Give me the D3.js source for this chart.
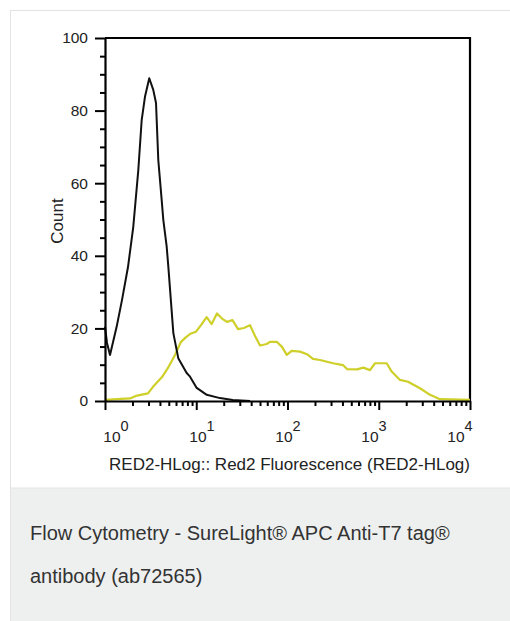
<!DOCTYPE html>
<html>
<head>
<meta charset="utf-8">
<script src="https://cdn.jsdelivr.net/npm/d3@7"></script>
<style>
  html, body { margin: 0; padding: 0; background: #fff; }
  svg { display: block; }
  text { font-family: "Liberation Sans", Arial, sans-serif; }
</style>
</head>
<body>
<svg id="chart" width="510" height="621"></svg>
<script>
// ---- data (log10 of fluorescence, count) ----
const controlLogX = [0.00, 0.022, 0.055, 0.128, 0.186, 0.252, 0.31, 0.365, 0.402, 0.438, 0.485, 0.529, 0.559, 0.584, 0.621, 0.639, 0.676, 0.694, 0.749, 0.803, 0.895, 0.932, 1.005, 1.115, 1.26, 1.40, 1.59];
const controlCount = [20.5, 16.0, 12.7, 20.5, 27.8, 36.9, 48.0, 63.6, 77.4, 83.8, 88.9, 85.7, 82.1, 66.4, 55.4, 49.9, 42.5, 37.0, 18.7, 11.8, 7.7, 6.7, 3.6, 1.7, 0.8, 0.3, 0.0];

const stainedLogX = [0.00, 0.274, 0.351, 0.471, 0.526, 0.625, 0.690, 0.767, 0.833, 0.888, 0.942, 0.997, 1.052, 1.114, 1.169, 1.227, 1.282, 1.337, 1.397, 1.458, 1.523, 1.589, 1.644, 1.699, 1.772, 1.808, 1.882, 1.940, 1.992, 2.046, 2.137, 2.214, 2.279, 2.356, 2.433, 2.499, 2.608, 2.652, 2.762, 2.831, 2.904, 2.959, 3.087, 3.142, 3.233, 3.321, 3.452, 3.562, 3.671, 4.0];
const stainedCount = [0.3, 0.7, 1.5, 2.1, 3.9, 6.6, 9.1, 12.7, 16.3, 17.6, 18.6, 19.1, 20.9, 23.1, 21.2, 24.1, 22.7, 21.8, 22.3, 19.8, 20.1, 20.9, 17.9, 15.3, 15.7, 16.3, 16.3, 14.9, 12.7, 13.8, 13.6, 12.9, 11.6, 11.3, 10.8, 10.4, 9.9, 8.8, 8.7, 9.2, 8.5, 10.4, 10.4, 8.1, 5.8, 5.3, 3.5, 1.7, 0.5, 0.3];

const yMajorTicks = [0, 20, 40, 60, 80, 100];
const yMinorTicks = [5, 10, 15, 25, 30, 35, 45, 50, 55, 65, 70, 75, 85, 90, 95];
const xMajorTicks = [1, 10, 100, 1000, 10000];
const xExponents = ["0", "1", "2", "3", "4"];
const xTitle = "RED2-HLog:: Red2 Fluorescence (RED2-HLog)";
const yTitle = "Count";
const captionLines = ["Flow Cytometry - SureLight® APC Anti-T7 tag®", "antibody (ab72565)"];

// ---- layout ----
const svg = d3.select("#chart");
const W = 510, H = 621;
const plot = { left: 105, right: 470, top: 38, bottom: 401 };

// card & caption
svg.append("rect").attr("x", 10.5).attr("y", 10.5).attr("width", W).attr("height", H)
  .attr("fill", "#fff").attr("stroke", "#e3e3e3").attr("stroke-width", 1);
svg.append("rect").attr("x", 11).attr("y", 488).attr("width", W).attr("height", H - 488)
  .attr("fill", "#eef0f0");
svg.append("line").attr("x1", 11).attr("x2", W).attr("y1", 488).attr("y2", 488)
  .attr("stroke", "#e3e5e5");
svg.selectAll("text.caption").data(captionLines).join("text")
  .attr("class", "caption")
  .attr("x", 30).attr("y", (d, i) => 540 + i * 43)
  .attr("font-size", 20).attr("fill", "#333")
  .text(d => d);

const x = d3.scaleLog().domain([1, 10000]).range([plot.left, plot.right]);
const y = d3.scaleLinear().domain([0, 100]).range([plot.bottom, plot.top]);

// frame (top & right)
svg.append("path")
  .attr("d", `M${x(1)},${y(100)}H${x(10000)}V${y(0)}`)
  .attr("fill", "none").attr("stroke", "#000").attr("stroke-width", 2.2);

// curves
const line = d3.line().x(d => x(Math.pow(10, d[0]))).y(d => y(d[1]));
const control = controlLogX.map((v, i) => [v, controlCount[i]]);
const stained = stainedLogX.map((v, i) => [v, stainedCount[i]]);

const plotG = svg.append("g");
plotG.append("path").datum(stained).attr("d", line)
  .attr("fill", "none").attr("stroke", "#cfcf2a").attr("stroke-width", 2.2)
  .attr("stroke-linejoin", "round");
plotG.append("path").datum(control).attr("d", line)
  .attr("fill", "none").attr("stroke", "#111").attr("stroke-width", 2)
  .attr("stroke-linejoin", "round");

// y axis
const yAxisG = svg.append("g").attr("transform", `translate(${plot.left},0)`);
yAxisG.call(d3.axisLeft(y).tickValues(yMinorTicks).tickSize(5).tickFormat(""));
yAxisG.call(g => g.select(".domain").remove());
const yMajG = svg.append("g").attr("transform", `translate(${plot.left},0)`);
yMajG.call(d3.axisLeft(y).tickValues(yMajorTicks).tickSize(10).tickSizeOuter(0).tickPadding(7));
yMajG.attr("font-size", 15.5);
yMajG.selectAll("text").attr("fill", "#222")
  .attr("font-family", "Liberation Sans, Arial, sans-serif");
yMajG.select(".domain").attr("stroke", "#000").attr("stroke-width", 2.2);

// x axis
const xMinor = [];
for (let e = 0; e < 4; e++) for (let k = 2; k <= 9; k++) xMinor.push(k * Math.pow(10, e));
const xMinG = svg.append("g").attr("transform", `translate(0,${plot.bottom})`);
xMinG.call(d3.axisBottom(x).tickValues(xMinor).tickSize(5).tickFormat(""));
xMinG.select(".domain").remove();
const xMajG = svg.append("g").attr("transform", `translate(0,${plot.bottom})`);
xMajG.call(d3.axisBottom(x).tickValues(xMajorTicks).tickSize(9).tickSizeOuter(0).tickFormat(""));
xMajG.select(".domain").attr("stroke", "#000").attr("stroke-width", 2.2);
svg.selectAll(".tick line").attr("stroke", "#000").attr("stroke-width", 2);

// x tick labels (10^n) – label centres drift slightly relative to ticks
const labelX = d3.scaleLinear().domain([0, 4]).range([x(1) + 11, x(10000) - 10]);
const xl = svg.append("g");
xMajorTicks.forEach((t, i) => {
  const tx = xl.append("text")
    .attr("x", labelX(i)).attr("y", 442)
    .attr("text-anchor", "middle").attr("fill", "#222").attr("font-size", 15.5);
  tx.append("tspan").text("10");
  tx.append("tspan").attr("dy", -11).attr("font-size", 14.5).text(xExponents[i]);
});

// titles
svg.append("text")
  .attr("x", (plot.left + plot.right) / 2 + 2).attr("y", 470)
  .attr("text-anchor", "middle").attr("font-size", 17).attr("fill", "#222")
  .text(xTitle);
svg.append("text")
  .attr("transform", `translate(63,221) rotate(-90)`)
  .attr("text-anchor", "middle").attr("font-size", 17).attr("fill", "#222")
  .text(yTitle);
</script>
</body>
</html>
